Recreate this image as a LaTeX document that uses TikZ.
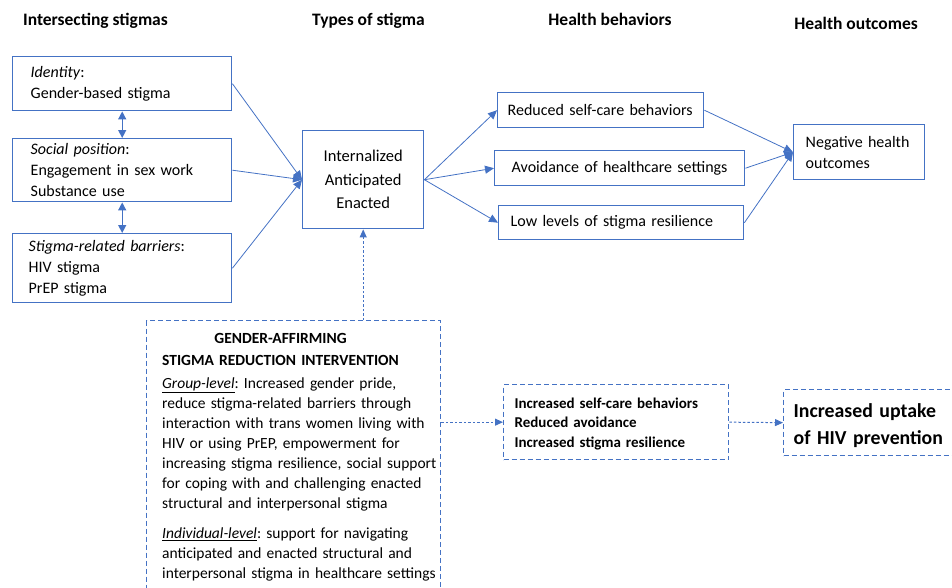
\documentclass[tikz,border=0pt]{standalone}
\usepackage{fontspec}
\setmainfont{Carlito}
\usetikzlibrary{arrows.meta}
\definecolor{bl}{HTML}{4472C4}
\frenchspacing
\tikzset{
  box/.style={draw=bl, line width=1.4pt, rectangle, inner ysep=0pt, anchor=north west, align=left, font=\fontsize{16}{21}\selectfont},
  dbox/.style={draw=bl, line width=1.3pt, dash pattern=on 5pt off 3pt, rectangle, inner ysep=0pt, anchor=north west, align=left},
  hdr/.style={font=\bfseries\fontsize{17.5}{21}\selectfont},
  conn/.style={draw=bl, line width=0.8pt, -{Triangle[length=9pt,width=8pt]}},
  dconn/.style={draw=bl, line width=1pt, dash pattern=on 2.5pt off 2pt, -{Triangle[length=8pt,width=7pt]}},
  link/.style={draw=bl, line width=1.3pt, {Triangle[length=8pt,width=8pt]}-{Triangle[length=8pt,width=8pt]}}
}
\begin{document}
\begin{tikzpicture}[x=1pt,y=-1pt]
\useasboundingbox (0,0) rectangle (952,587);
\clip (0,0) rectangle (952,587);
% headers
\node[hdr] (h1) at (95.5,21) {Intersecting stigmas};
\node[hdr] (h2) at (368.5,21) {Types of stigma};
\node[hdr] (h3) at (610,19) {Health behaviors};
\node[hdr] (h4) at (856,23) {Health outcomes};
% left boxes
\node[box, text width=183pt, inner xsep=18pt, minimum height=54pt] (id) at (12,56) {\textit{Identity}:\\Gender-based stigma};
\node[box, text width=183pt, inner xsep=18pt, minimum height=63pt] (sp) at (12,138) {\textit{Social position}:\\Engagement in sex work\\Substance use};
\node[box, text width=187pt, inner xsep=16pt, minimum height=69pt] (sb) at (12,233) {\textit{Stigma-related barriers}:\\HIV stigma\\PrEP stigma};
% center
\node[box, align=center, text width=121pt, inner xsep=0pt, minimum height=98pt, font=\fontsize{16.5}{23.5}\selectfont] (types) at (302,130) {Internalized\\Anticipated\\Enacted};
% behaviors
\node[box, text width=186pt, inner xsep=10pt, minimum height=35pt] (rs) at (497,92) {Reduced self-care behaviors};
\node[box, text width=216pt, inner xsep=17pt, minimum height=35pt] (av) at (494,150) {Avoidance of healthcare settings};
\node[box, text width=221pt, inner xsep=12pt, minimum height=34pt] (ll) at (498,205) {Low levels of stigma resilience};
% outcome
\node[box, text width=107pt, inner xsep=12pt, minimum height=55pt] (neg) at (793,124) {Negative health\\outcomes};
% intervention
\node[dbox, minimum width=294pt, minimum height=300pt, inner sep=0pt] (intv) at (146,320) {};
\node[anchor=north west, inner sep=0pt, text width=275pt, align=left, font=\fontsize{15.5}{20}\selectfont] (intvtext) at (162,329)
{\begin{tabular}{@{}c@{}}\bfseries GENDER-AFFIRMING\\[2.5pt]\bfseries STIGMA REDUCTION INTERVENTION\end{tabular}\\[5pt]
\underline{\textit{Group-level}}: Increased gender pride,\\
reduce stigma-related barriers through\\
interaction with trans women living with\\
HIV or using PrEP, empowerment for\\
increasing stigma resilience, social support\\
for coping with and challenging enacted\\
structural and interpersonal stigma\\[10pt]
\underline{\textit{Individual-level}}: support for navigating\\
anticipated and enacted structural and\\
interpersonal stigma in healthcare settings};
% intervention outcomes
\node[dbox, text width=203pt, inner xsep=11pt, minimum height=75pt, font=\bfseries\fontsize{15}{19.5}\selectfont] (mid) at (503,384) {\strut Increased self-care behaviors\\Reduced avoidance\\Increased stigma resilience};
\node[dbox, text width=190pt, inner xsep=10pt, minimum height=66pt, font=\bfseries\fontsize{19.8}{27}\selectfont] (upt) at (783,389) {\strut Increased uptake\\of HIV prevention};
% connectors
\draw[link] (id.south) -- (sp.north);
\draw[link] (sp.south) -- (sb.north);
\draw[conn] (id.east) -- (types.west);
\draw[conn] (sp.east) -- (types.west);
\draw[conn] (sb.east) -- (types.west);
\draw[conn] (types.east) -- (rs.west);
\draw[conn] (types.east) -- (av.west);
\draw[conn] (types.east) -- (ll.west);
\draw[conn] (rs.east) -- (neg.west);
\draw[conn] (av.east) -- (neg.west);
\draw[conn] (ll.east) -- (neg.west);
\draw[dconn] (types.south |- intv.north) -- (types.south);
\draw[dconn] (mid.west -| intv.east) -- (mid.west);
\draw[dconn] (mid.east) -- (upt.west);
\end{tikzpicture}
\end{document}
